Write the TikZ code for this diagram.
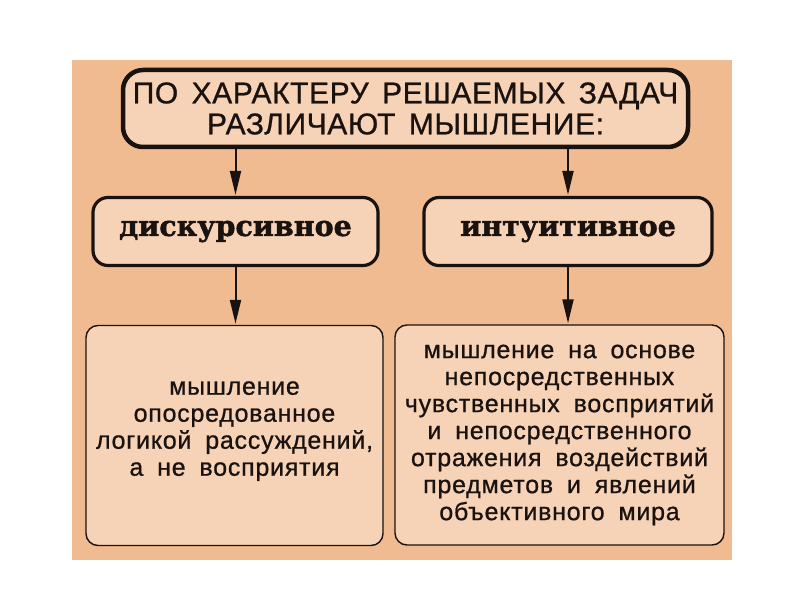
\documentclass[tikz,border=0pt]{standalone}
\usepackage{fontspec}
\setmainfont{Liberation Sans}
\newfontfamily\headserif[FakeBold=1.5]{DejaVu Serif}
\newfontfamily\capsans[LetterSpace=2,WordSpace=1.5,FakeBold=0.8]{Liberation Sans}
\newfontfamily\bodysans[LetterSpace=3,WordSpace=1.8,FakeBold=0.8]{Liberation Sans}
\usetikzlibrary{arrows.meta}
\definecolor{panelc}{RGB}{241,187,146}
\definecolor{boxc}{RGB}{246,210,182}
\definecolor{inkc}{RGB}{25,18,15}
\tikzset{
  topbox/.style={draw=inkc, fill=boxc, line width=4.5pt, rounded corners=20pt,
    minimum width=565pt, minimum height=77pt, align=center, text=inkc,
    font=\capsans\fontsize{30}{31}\selectfont, inner sep=0pt},
  midbox/.style={draw=inkc, fill=boxc, line width=3.2pt, rounded corners=15pt,
    minimum height=68pt, align=center, text=inkc,
    font=\headserif\bfseries\fontsize{28.5}{29}\selectfont, inner sep=0pt},
  lowbox/.style={draw=inkc, fill=boxc, line width=1.4pt, rounded corners=12pt,
    minimum height=220pt, align=center, text=inkc,
    font=\bodysans\fontsize{25}{27}\selectfont, inner sep=0pt},
  arr/.style={draw=inkc, line width=2pt, -{Triangle[length=24pt,width=11pt]}, shorten >=1pt}
}
\begin{document}
\begin{tikzpicture}[x=1pt,y=1pt]
\useasboundingbox (0,0) rectangle (794,595);
\fill[white] (0,0) rectangle (794,595);
\fill[panelc] (72,35) rectangle (732,535);
\node[topbox] (top) at (405.5,486.5) {ПО ХАРАКТЕРУ РЕШАЕМЫХ ЗАДАЧ\\РАЗЛИЧАЮТ МЫШЛЕНИЕ:};
\node[midbox, minimum width=285pt] (disc) at (235.5,363.5) {дискурсивное};
\node[midbox, minimum width=288pt] (intu) at (568,363.5) {интуитивное};
\node[lowbox, minimum width=297pt, text depth=14pt] (dtext) at (234.5,159.5) {мышление\\опосредованное\\логикой рассуждений,\\а не восприятия};
\node[lowbox, minimum width=329pt] (itext) at (559.5,160) {мышление на основе\\непосредственных\\чувственных восприятий\\и непосредственного\\отражения воздействий\\предметов и явлений\\объективного мира};
\draw[arr] (top.south -| disc.north) -- (disc.north);
\draw[arr] (top.south -| intu.north) -- (intu.north);
\draw[arr] (disc.south) -- (disc.south |- dtext.north);
\draw[arr] (intu.south) -- (intu.south |- itext.north);
\end{tikzpicture}
\end{document}
